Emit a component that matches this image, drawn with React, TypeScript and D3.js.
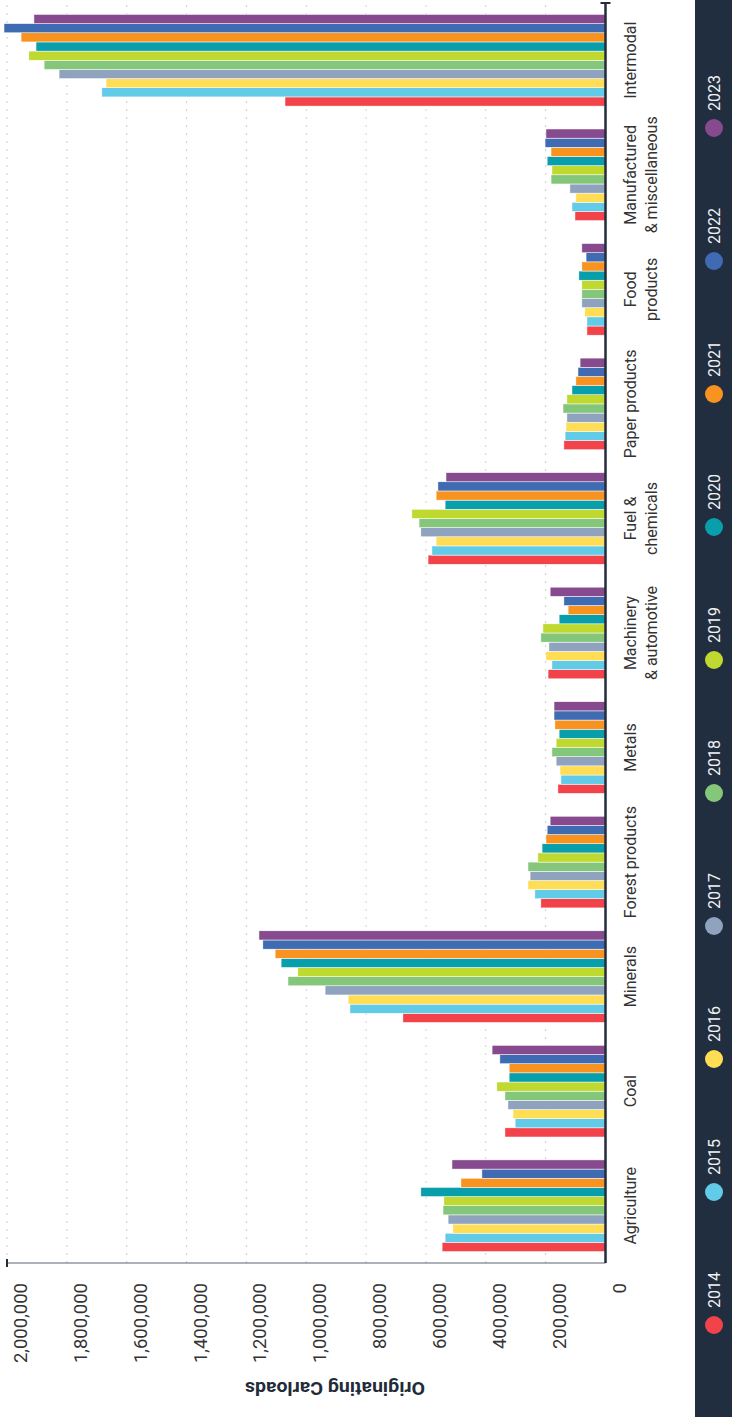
import React from "react";
import * as d3 from "d3";

const categories = [
  "Agriculture",
  "Coal",
  "Minerals",
  "Forest products",
  "Metals",
  "Machinery\n& automotive",
  "Fuel &\nchemicals",
  "Paper products",
  "Food\nproducts",
  "Manufactured\n& miscellaneous",
  "Intermodal",
];

const years = ["2014", "2015", "2016", "2017", "2018", "2019", "2020", "2021", "2022", "2023"];

const yearColors = [
  "#f2434b",
  "#62cbe8",
  "#ffdd55",
  "#8fa3bf",
  "#85c77a",
  "#bfd930",
  "#089eab",
  "#f7931e",
  "#3f6bb3",
  "#874a8e",
];

// values per year, in category order
const v2014 = [546000, 336000, 677000, 216000, 159000, 192000, 593000, 139000, 62000, 102000, 1071000];
const v2015 = [536000, 302000, 854000, 236000, 149000, 179000, 580000, 135000, 62000, 112000, 1683000];
const v2016 = [510000, 309000, 860000, 259000, 152000, 199000, 566000, 132000, 69000, 99000, 1669000];
const v2017 = [526000, 326000, 937000, 252000, 165000, 189000, 617000, 129000, 79000, 119000, 1826000];
const v2018 = [543000, 336000, 1061000, 259000, 179000, 216000, 623000, 142000, 79000, 182000, 1876000];
const v2019 = [540000, 363000, 1028000, 226000, 165000, 209000, 647000, 129000, 79000, 179000, 1927000];
const v2020 = [617000, 322000, 1084000, 212000, 155000, 155000, 536000, 112000, 89000, 195000, 1903000];
const v2021 = [483000, 322000, 1104000, 199000, 169000, 125000, 566000, 99000, 79000, 182000, 1953000];
const v2022 = [413000, 353000, 1145000, 195000, 172000, 139000, 560000, 92000, 65000, 202000, 2010000];
const v2023 = [513000, 379000, 1158000, 185000, 172000, 185000, 533000, 85000, 79000, 199000, 1910000];

const seriesValues = [v2014, v2015, v2016, v2017, v2018, v2019, v2020, v2021, v2022, v2023];

const yTicks = [0, 200000, 400000, 600000, 800000, 1000000, 1200000, 1400000, 1600000, 1800000, 2000000];

const axisTitle = "Originating Carloads";

// Original (unrotated) canvas
const W = 1417;
const H = 732;
const plotLeft = 154;
const plotRight = 1414;
const plotTop = 7;
const plotBottom = 605.5;

const FONT = "Roboto, 'Noto Sans', sans-serif";

export default function App() {
  const x0 = d3.scaleBand<string>().domain(categories).range([plotLeft, plotRight]).padding(0);
  const step = x0.step();
  const x1 = d3
    .scaleBand<string>()
    .domain(years)
    .range([step * 0.1, step * 0.9])
    .padding(0);
  const y = d3.scaleLinear().domain([0, 2000000]).range([plotBottom, plotTop]);
  const fmt = d3.format(",");

  return (
    <svg
      width={H}
      height={W}
      style={{ position: "absolute", left: 0, top: 0, display: "block", background: "#fff" }}
    >
      <g transform={`translate(0, ${W}) rotate(-90)`}>
        {/* gridlines */}
        {yTicks
          .filter((t) => t !== 0)
          .map((t) => (
            <line
              key={"g" + t}
              x1={plotLeft}
              x2={plotRight}
              y1={y(t)}
              y2={y(t)}
              stroke="#cfcfcf"
              strokeWidth={1}
              strokeDasharray="2 6"
            />
          ))}

        {/* bars */}
        {years.map((yr, si) => (
          <g key={yr}>
            {categories.map((c, ci) => {
              const v = seriesValues[si][ci];
              return (
                <rect
                  key={c}
                  x={(x0(c) as number) + (x1(yr) as number)}
                  y={y(v)}
                  width={x1.bandwidth()}
                  height={y(0) - y(v)}
                  fill={yearColors[si]}
                  stroke="#ffffff"
                  strokeWidth={0.5}
                />
              );
            })}
          </g>
        ))}

        {/* value axis line */}
        <line x1={plotLeft} x2={plotLeft} y1={y(2000000)} y2={plotBottom} stroke="#5a6270" strokeWidth={1} />
        <line x1={plotLeft - 4} x2={plotLeft + 4} y1={y(2000000)} y2={y(2000000)} stroke="#232d3b" strokeWidth={2} />

        {/* category axis line */}
        <line x1={plotLeft} x2={plotRight} y1={plotBottom} y2={plotBottom} stroke="#232d3b" strokeWidth={2.5} />
        <line x1={plotRight} x2={plotRight} y1={plotBottom - 5} y2={plotBottom + 5} stroke="#232d3b" strokeWidth={2} />

        {/* value tick labels */}
        {yTicks.map((t) => (
          <text
            key={"t" + t}
            x={134}
            y={y(t) + 20}
            textAnchor="end"
            fontFamily={FONT}
            fontSize={18.5}
            fill="#333333"
          >
            {fmt(t)}
          </text>
        ))}

        {/* axis title */}
        <text
          transform={`translate(35, 335) rotate(-90)`}
          textAnchor="middle"
          fontFamily={FONT}
          fontWeight="bold"
          fontSize={18}
          fill="#222b38"
          textLength={180}
          lengthAdjust="spacingAndGlyphs"
        >
          {axisTitle}
        </text>

        {/* category labels */}
        {categories.map((c) => {
          const cx = (x0(c) as number) + step / 2;
          return (
            <text key={"c" + c} textAnchor="middle" fontFamily={FONT} fontSize={16} fill="#333333">
              {c.split("\n").map((line, li) => (
                <tspan key={li} x={cx} y={636 + li * 21}>
                  {line}
                </tspan>
              ))}
            </text>
          );
        })}

        {/* legend */}
        <rect x={0} y={695} width={W} height={H - 695} fill="#212e40" />
        {years.map((yr, i) => (
          <g key={"l" + yr}>
            <circle cx={92 + i * 133} cy={714} r={9} fill={yearColors[i]} />
            <text x={109 + i * 133} y={719.5} fontFamily={FONT} fontSize={16} fill="#f2f2f2">
              {yr}
            </text>
          </g>
        ))}
      </g>
    </svg>
  );
}
